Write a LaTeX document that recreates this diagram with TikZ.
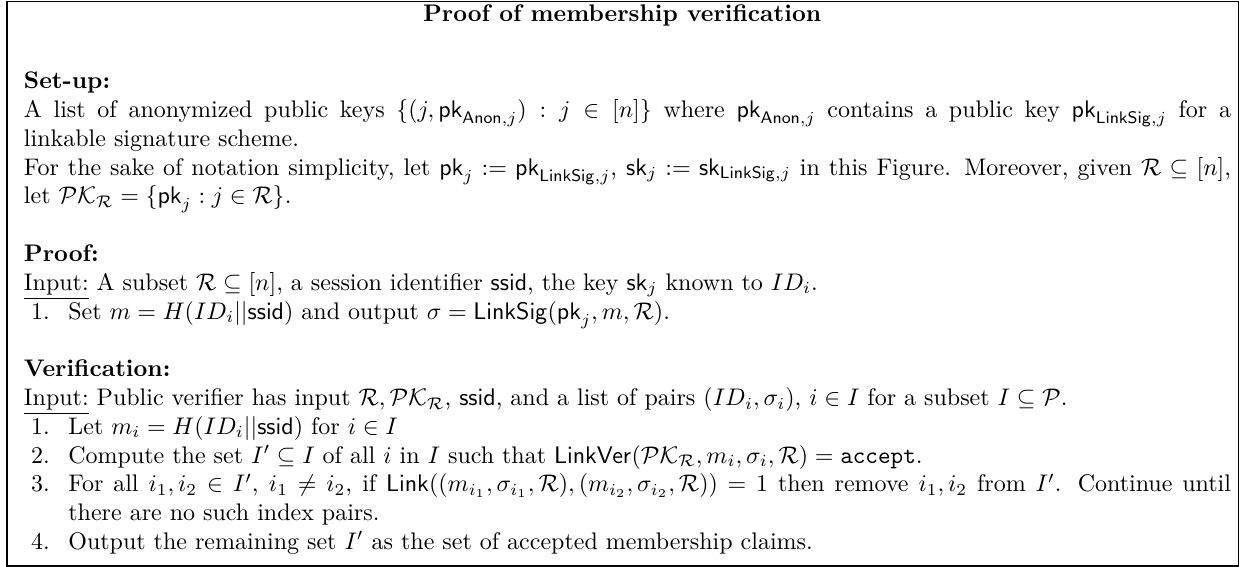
\documentclass[tikz,border=0pt]{standalone}
\usepackage{amsmath,amssymb}
\newcommand{\pkey}{{\mathsf{pk}}}
\newcommand{\skey}{{\mathsf{sk}}}
\newcommand{\cR}{\mathcal{R}}
\newcommand{\PKR}{\mathcal{PK}_{\mathcal{R}}}
\newcommand{\ssid}{\mathsf{ssid}}
% widths of full lines and of hanging item lines
\newlength{\tw}\setlength{\tw}{503pt}
\newlength{\itw}\setlength{\itw}{484.5pt}
\begin{document}
\begin{tikzpicture}[
  x=1pt, y=-1pt,
  line/.style={anchor=base west, inner sep=0pt, outer sep=0pt},
  heading/.style={line, font=\bfseries},
  framebox/.style={draw, line width=0.6pt, anchor=north west, inner sep=0pt,
    minimum width=513.1pt, minimum height=235.2pt},
]
\useasboundingbox (0,0) rectangle (518,236.25);
\node[framebox] (frame) at (2.7,0.35) {};

% title
\node[anchor=base, inner sep=0pt, font=\bfseries] (title) at (259.25,9) {Proof of membership verification};

% set-up
\node[heading] (setup) at (10,37) {Set-up:};
\node[line] (s1) at (10,49) {\makebox[\tw][s]{A list of anonymized public keys $\{(j,\pkey_{\mathsf{Anon},j}) : j \in [n]\}$ where $\pkey_{\mathsf{Anon},j}$ contains a public key $\pkey_{\mathsf{LinkSig},j}$ for a}};
\node[line] (s2) at (10,61) {linkable signature scheme.};
\node[line] (s3) at (10,73) {\makebox[\tw][s]{For the sake of notation simplicity, let $\pkey_j := \pkey_{\mathsf{LinkSig},j}$, $\skey_j := \skey_{\mathsf{LinkSig},j}$ in this Figure. Moreover, given $\cR \subseteq [n]$,}};
\node[line] (s4) at (10,85) {let $\PKR = \{\pkey_j : j \in \cR\}$.};

% proof
\node[heading] (proof) at (10,109) {Proof:};
\node[line] (p1) at (10,121) {\underline{Input:} A subset $\cR \subseteq [n]$, a session identifier $\ssid$, the key $\skey_j$ known to $ID_i$.};
\node[line] (p2l) at (13,133) {1.};
\node[line] (p2) at (28.5,133) {Set $m = H(ID_i||\ssid)$ and output $\sigma = \mathsf{LinkSig}(\pkey_j, m, \cR)$.};

% verification
\node[heading] (verif) at (10,157) {Verification:};
\node[line] (v0) at (10,169) {\underline{Input:} Public verifier has input $\cR, \PKR$, $\ssid$, and a list of pairs $(ID_i,\sigma_i)$, $i \in I$ for a subset $I \subseteq \mathcal{P}$.};
\node[line] (v1l) at (13,181) {1.};
\node[line] (v1) at (28.5,181) {Let $m_i = H(ID_i||\ssid)$ for $i \in I$};
\node[line] (v2l) at (13,193) {2.};
\node[line] (v2) at (28.5,193) {Compute the set $I' \subseteq I$ of all $i$ in $I$ such that $\mathsf{LinkVer}(\PKR, m_i, \sigma_i, \cR) = \mathtt{accept}$.};
\node[line] (v3l) at (13,205) {3.};
\node[line] (v3) at (28.5,205) {\makebox[\itw][s]{For all $i_1, i_2 \in I'$, $i_1 \neq i_2$, if $\mathsf{Link}((m_{i_1}, \sigma_{i_1}, \cR), (m_{i_2}, \sigma_{i_2}, \cR)) = 1$ then remove $i_1, i_2$ from $I'$. Continue until}};
\node[line] (v3b) at (28.5,217) {there are no such index pairs.};
\node[line] (v4l) at (13,229) {4.};
\node[line] (v4) at (28.5,229) {Output the remaining set $I'$ as the set of accepted membership claims.};
\end{tikzpicture}
\end{document}
